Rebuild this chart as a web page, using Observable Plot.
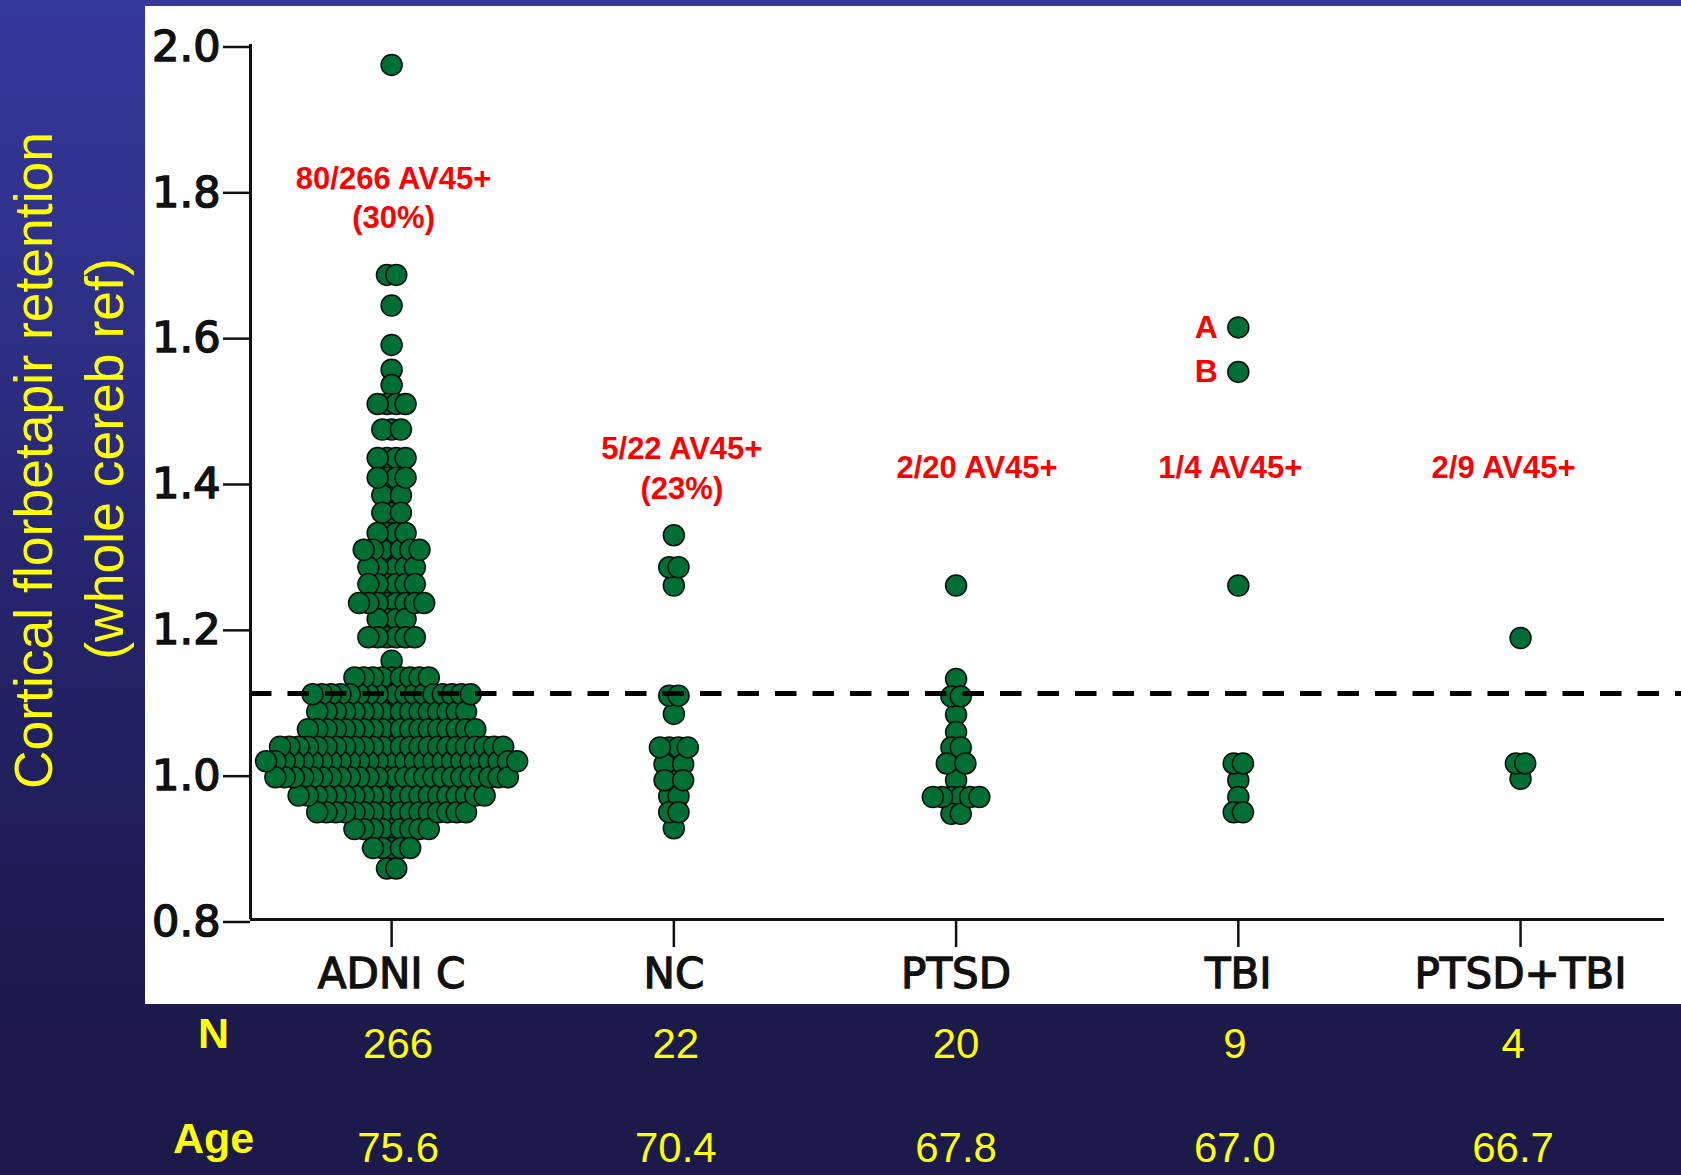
<!DOCTYPE html>
<html>
<head>
<meta charset="utf-8">
<script src="https://cdn.jsdelivr.net/npm/d3@7"></script>
<script src="https://cdn.jsdelivr.net/npm/@observablehq/plot@0.6"></script>
<style>
  html, body { margin: 0; padding: 0; }
  body {
    width: 1681px; height: 1175px; overflow: hidden; position: relative;
    background: linear-gradient(180deg, #35389b 0%, #2d2f85 28%, #24246c 52%, #1e1d55 75%, #1b1a4b 88%, #1b1a4b 100%);
  }
  #panel { position: absolute; left: 145px; top: 6px; width: 1536px; height: 998px; background: #ffffff; }
  #chart { position: absolute; left: 0; top: 0; }
  #chart svg { overflow: visible; }
  g[aria-label="y-axis tick label"] text { paint-order: stroke; stroke: #111; stroke-width: 1.5px; }
  g[aria-label="x-axis tick label"] text { paint-order: stroke; stroke: #111; stroke-width: 1.3px; }
</style>
</head>
<body>
<div id="panel"></div>
<div id="chart"></div>
<script>
// ---------------- data ----------------
const categories = ["ADNI C", "NC", "PTSD", "TBI", "PTSD+TBI"];

// each row: [value, number of subjects drawn in that row]
const adniRows = [
  [1.972, 1], [1.684, 2], [1.642, 1], [1.588, 1], [1.554, 1], [1.533, 1],
  [1.507, 4], [1.472, 3], [1.433, 4], [1.406, 4], [1.382, 3], [1.358, 3],
  [1.330, 4], [1.307, 7], [1.283, 6], [1.260, 6], [1.234, 8], [1.212, 4],
  [1.187, 6], [1.155, 1], [1.132, 9], [1.109, 18], [1.085, 17], [1.061, 19],
  [1.037, 25], [1.017, 28], [0.995, 26], [0.970, 21], [0.947, 17], [0.924, 9],
  [0.898, 5], [0.870, 2]
];
const ncRows = [
  [1.327, 1], [1.283, 2], [1.258, 1], [1.107, 2], [1.082, 1], [1.036, 4],
  [1.013, 3], [0.991, 3], [0.969, 2], [0.947, 2], [0.925, 1]
];
const ptsdRows = [
  [1.258, 1], [1.130, 1], [1.106, 2], [1.081, 1], [1.057, 1], [1.036, 2],
  [1.014, 3], [0.991, 1], [0.968, 6], [0.945, 2]
];
const tbiRows = [
  [1.612, 1], [1.551, 1], [1.258, 1], [1.014, 2], [0.991, 1], [0.968, 1], [0.947, 2]
];
const ptsdTbiRows = [
  [1.186, 1], [1.014, 2], [0.993, 1]
];

const nValues = ["266", "22", "20", "9", "4"];
const ageValues = ["75.6", "70.4", "67.8", "67.0", "66.7"];
const yTicks = [0.8, 1.0, 1.2, 1.4, 1.6, 1.8, 2.0];
const threshold = 1.11;

const annotations = [
  {cat: 0, text: "80/266 AV45+\n(30%)"},
  {cat: 1, text: "5/22 AV45+\n(23%)"},
  {cat: 2, text: "2/20 AV45+"},
  {cat: 3, text: "1/4 AV45+"},
  {cat: 4, text: "2/9 AV45+"}
];
const pointLabels = [
  {cat: 3, value: 1.612, text: "A"},
  {cat: 3, value: 1.551, text: "B"}
];
const yTitle = ["Cortical florbetapir retention", "(whole cereb ref)"];

// ---------------- layout / style ----------------
const W = 1681, H = 1175;
const M = {top: 44, right: 17, bottom: 256, left: 250};
const xDomain = [-0.5, 4.51];
const pxPerUnit = (W - M.left - M.right) / (xDomain[1] - xDomain[0]);
const dotSpacing = 9.3;           // horizontal spacing of dots within a row (px)
const green = "#006f33";
const yellow = "#ffff00";
const red = "#ff0000";
const sans = "Liberation Sans, Arial, Helvetica, sans-serif";
const axisFont = "DejaVu Sans, Verdana, sans-serif";
const annLayout = [
  {dx: 2, dy: 117, lh: 1.25},
  {dx: 8, dy: 385.4, lh: 1.306},
  {dx: 21, dy: 411.8, lh: 1},
  {dx: -8, dy: 411.8, lh: 1},
  {dx: -17, dy: 411.8, lh: 1}
];
const tableDx = [6.5, 2, 0, -3.5, -7.5];   // slide text boxes sit slightly off the category centres (px)

// swarm layout: symmetric rows, inner points first so outer points sit on top
const groups = [adniRows, ncRows, ptsdRows, tbiRows, ptsdTbiRows];
const points = [];
groups.forEach((rows, g) => rows.forEach(([v, n]) => {
  for (let j = 0; j < n; j++) {
    points.push({group: g, value: v, off: (j - (n - 1) / 2) * dotSpacing});
  }
}));
points.sort((a, b) => Math.abs(a.off) - Math.abs(b.off));
points.forEach(p => { p.xPos = p.group + p.off / pxPerUnit; });

const tableX = (d, i) => i + tableDx[i] / pxPerUnit;

const marks = [
  // dots
  Plot.dot(points, {x: "xPos", y: "value", r: 10.5, fill: green, stroke: "#0d0d0d", strokeWidth: 1.5}),
  // threshold
  Plot.ruleY([threshold], {stroke: "#000", strokeWidth: 5, strokeDasharray: "21.5,16", insetRight: -17}),
  // axis lines
  Plot.ruleX([xDomain[0]], {stroke: "#111", strokeWidth: 3}),
  Plot.ruleY([yTicks[0]], {stroke: "#111", strokeWidth: 3}),
  Plot.axisY({ticks: yTicks, tickFormat: ".1f", tickSize: 27, tickPadding: 3, strokeWidth: 2.5,
    fontSize: 43, fontFamily: axisFont, fill: "#111", dy: 2.5, label: null}),
  Plot.axisX({ticks: [0, 1, 2, 3, 4], tickFormat: i => categories[i], tickSize: 28, tickPadding: 10.5,
    strokeWidth: 2.5, fontSize: 42, fontFamily: axisFont, fill: "#111", label: null}),
  // A / B point labels
  Plot.text(pointLabels, {x: "cat", y: "value", text: "text", dx: -32, fill: red,
    fontSize: 32, fontWeight: "bold", fontFamily: sans, textAnchor: "middle"}),
  // N and Age rows
  Plot.text(["N"], {frameAnchor: "bottom-left", text: d => d, dx: -37, dy: 128.5, fill: yellow,
    fontSize: 43, fontWeight: "bold", fontFamily: sans, textAnchor: "middle"}),
  Plot.text(["Age"], {frameAnchor: "bottom-left", text: d => d, dx: -37, dy: 233, fill: yellow,
    fontSize: 43, fontWeight: "bold", fontFamily: sans, textAnchor: "middle"}),
  Plot.text(nValues, {x: tableX, text: d => d, frameAnchor: "bottom", dy: 138.5, fill: yellow,
    fontSize: 42, fontFamily: sans, textAnchor: "middle"}),
  Plot.text(ageValues, {x: tableX, text: d => d, frameAnchor: "bottom", dy: 242, fill: yellow,
    fontSize: 42, fontFamily: sans, textAnchor: "middle"}),
  // y-axis title (two rotated lines)
  Plot.text([yTitle[0]], {frameAnchor: "left", text: d => d, rotate: -90, dx: -199, dy: -21.5,
    lineAnchor: "bottom", textAnchor: "middle", fill: yellow, fontSize: 53.5, fontFamily: sans}),
  Plot.text([yTitle[1]], {frameAnchor: "left", text: d => d, rotate: -90, dx: -128, dy: -23,
    lineAnchor: "bottom", textAnchor: "middle", fill: yellow, fontSize: 53.5, fontFamily: sans})
];

// AV45+ annotations
annotations.forEach((a, k) => {
  const L = annLayout[k];
  marks.push(Plot.text([a], {x: "cat", text: "text", frameAnchor: "top", dx: L.dx, dy: L.dy,
    lineAnchor: "top", lineHeight: L.lh, textAnchor: "middle", fill: red,
    fontSize: 31, fontWeight: "bold", fontFamily: sans}));
});

const chart = Plot.plot({
  width: W, height: H,
  marginTop: M.top, marginRight: M.right, marginBottom: M.bottom, marginLeft: M.left,
  x: {type: "linear", domain: xDomain, axis: null},
  y: {type: "linear", domain: [yTicks[0], yTicks[yTicks.length - 1]], axis: null},
  style: {background: "transparent", color: "#111", overflow: "visible"},
  marks
});
document.getElementById("chart").appendChild(chart);
</script>
</body>
</html>
